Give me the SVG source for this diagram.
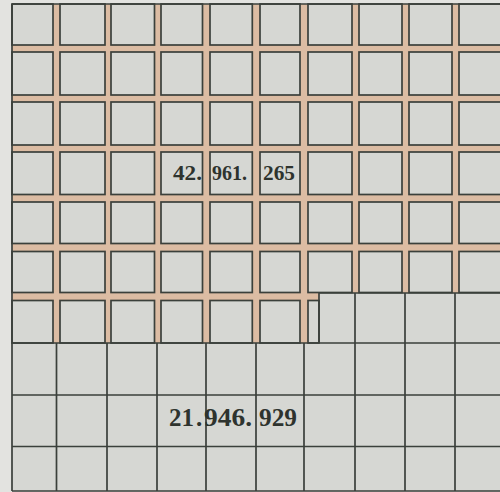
<svg xmlns="http://www.w3.org/2000/svg" width="500" height="492" viewBox="0 0 500 492">
<style>
.page{fill:#e3e3e0}
.road{fill:#dcbca3}
.ground{fill:#d6d7d3}
.sq{fill:#d6d7d3;stroke:#3b403b;stroke-width:1.7}
.ln{stroke:#3b403b;stroke-width:1.7;fill:none}
.num{font-family:"Liberation Serif","Times New Roman",serif;font-weight:bold;fill:#2e332e}
</style>
<rect class="page" x="0" y="0" width="500" height="492"/>
<g id="roads">
<rect class="road" x="12" y="4" width="488" height="289"/>
<rect class="road" x="12" y="293" width="307" height="50"/>
</g>
<rect class="ground" x="12" y="343" width="488" height="148"/>
<rect class="ground" x="319" y="293" width="181" height="50"/>
<g id="blocks">
<g id="row0">
<rect class="sq" x="12" y="4" width="41" height="41"/><rect class="sq" x="60" y="4" width="45" height="41"/><rect class="sq" x="111" y="4" width="43.5" height="41"/><rect class="sq" x="161" y="4" width="41.5" height="41"/><rect class="sq" x="210" y="4" width="42.3" height="41"/><rect class="sq" x="260" y="4" width="40" height="41"/><rect class="sq" x="308" y="4" width="44" height="41"/><rect class="sq" x="359" y="4" width="43" height="41"/><rect class="sq" x="409" y="4" width="43" height="41"/><rect class="sq" x="459" y="4" width="45" height="41"/>
</g>
<g id="row1">
<rect class="sq" x="12" y="52" width="41" height="43"/><rect class="sq" x="60" y="52" width="45" height="43"/><rect class="sq" x="111" y="52" width="43.5" height="43"/><rect class="sq" x="161" y="52" width="41.5" height="43"/><rect class="sq" x="210" y="52" width="42.3" height="43"/><rect class="sq" x="260" y="52" width="40" height="43"/><rect class="sq" x="308" y="52" width="44" height="43"/><rect class="sq" x="359" y="52" width="43" height="43"/><rect class="sq" x="409" y="52" width="43" height="43"/><rect class="sq" x="459" y="52" width="45" height="43"/>
</g>
<g id="row2">
<rect class="sq" x="12" y="102" width="41" height="43"/><rect class="sq" x="60" y="102" width="45" height="43"/><rect class="sq" x="111" y="102" width="43.5" height="43"/><rect class="sq" x="161" y="102" width="41.5" height="43"/><rect class="sq" x="210" y="102" width="42.3" height="43"/><rect class="sq" x="260" y="102" width="40" height="43"/><rect class="sq" x="308" y="102" width="44" height="43"/><rect class="sq" x="359" y="102" width="43" height="43"/><rect class="sq" x="409" y="102" width="43" height="43"/><rect class="sq" x="459" y="102" width="45" height="43"/>
</g>
<g id="row3">
<rect class="sq" x="12" y="152" width="41" height="42.5"/><rect class="sq" x="60" y="152" width="45" height="42.5"/><rect class="sq" x="111" y="152" width="43.5" height="42.5"/><rect class="sq" x="161" y="152" width="41.5" height="42.5"/><rect class="sq" x="210" y="152" width="42.3" height="42.5"/><rect class="sq" x="260" y="152" width="40" height="42.5"/><rect class="sq" x="308" y="152" width="44" height="42.5"/><rect class="sq" x="359" y="152" width="43" height="42.5"/><rect class="sq" x="409" y="152" width="43" height="42.5"/><rect class="sq" x="459" y="152" width="45" height="42.5"/>
</g>
<g id="row4">
<rect class="sq" x="12" y="202" width="41" height="41.5"/><rect class="sq" x="60" y="202" width="45" height="41.5"/><rect class="sq" x="111" y="202" width="43.5" height="41.5"/><rect class="sq" x="161" y="202" width="41.5" height="41.5"/><rect class="sq" x="210" y="202" width="42.3" height="41.5"/><rect class="sq" x="260" y="202" width="40" height="41.5"/><rect class="sq" x="308" y="202" width="44" height="41.5"/><rect class="sq" x="359" y="202" width="43" height="41.5"/><rect class="sq" x="409" y="202" width="43" height="41.5"/><rect class="sq" x="459" y="202" width="45" height="41.5"/>
</g>
<g id="row5">
<rect class="sq" x="12" y="251.5" width="41" height="41"/><rect class="sq" x="60" y="251.5" width="45" height="41"/><rect class="sq" x="111" y="251.5" width="43.5" height="41"/><rect class="sq" x="161" y="251.5" width="41.5" height="41"/><rect class="sq" x="210" y="251.5" width="42.3" height="41"/><rect class="sq" x="260" y="251.5" width="40" height="41"/><rect class="sq" x="308" y="251.5" width="44" height="41"/><rect class="sq" x="359" y="251.5" width="43" height="41"/><rect class="sq" x="409" y="251.5" width="43" height="41"/><rect class="sq" x="459" y="251.5" width="45" height="41"/>
</g>
<g id="row6">
<rect class="sq" x="12" y="300.5" width="41" height="42.5"/><rect class="sq" x="60" y="300.5" width="45" height="42.5"/><rect class="sq" x="111" y="300.5" width="43.5" height="42.5"/><rect class="sq" x="161" y="300.5" width="41.5" height="42.5"/><rect class="sq" x="210" y="300.5" width="42.3" height="42.5"/><rect class="sq" x="260" y="300.5" width="40" height="42.5"/><rect class="sq" x="308" y="300.5" width="11" height="42.5"/>
</g>
</g>
<g id="grid">
<path class="ln" d="M12 4H500M12 4V491M12 491H500M12 343H500M12 395H500M12 446.5H500M319 293H500M319 293V343"/>
<path class="ln" d="M56.5 343V491M107 343V491M157 343V491M206 343V491M256 343V491M304 343V491M355 293V491M405 293V491M455 293V491"/>
</g>
<g id="labels">
<text class="num" x="173" y="179.5" font-size="20" textLength="29" lengthAdjust="spacingAndGlyphs">42.</text>
<text class="num" x="212" y="179.5" font-size="20" textLength="35" lengthAdjust="spacingAndGlyphs">961.</text>
<text class="num" x="263" y="179.5" font-size="20" textLength="32" lengthAdjust="spacingAndGlyphs">265</text>
<text class="num" x="169" y="426" font-size="25">21</text>
<text class="num" x="196" y="426" font-size="25">.</text>
<text class="num" x="204" y="426" font-size="25" textLength="48" lengthAdjust="spacingAndGlyphs">946.</text>
<text class="num" x="259" y="426" font-size="25" textLength="38" lengthAdjust="spacingAndGlyphs">929</text>
</g>
</svg>
